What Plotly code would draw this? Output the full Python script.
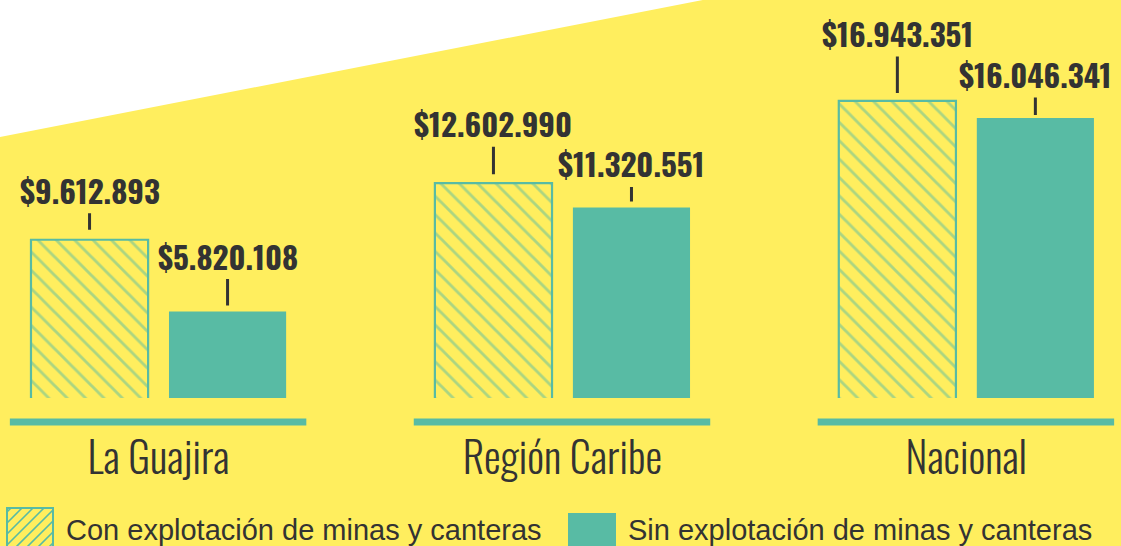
import plotly.graph_objects as go

# ---------------- data ----------------
categories = ["La Guajira", "Región Caribe", "Nacional"]
con_mineria = [9612893, 12602990, 16943351]
sin_mineria = [5820108, 11320551, 16046341]
series_names = ["Con explotación de minas y canteras",
                "Sin explotación de minas y canteras"]

# ---------------- style ----------------
YELLOW = "#FFEE5E"
TEAL = "#58BBA4"
DARK = "#333333"
OSWALD = "Oswald, Roboto Condensed, sans-serif"
SANS = "Liberation Sans, Arial, Helvetica, sans-serif"

W, H = 1121, 546
MB = 148
PH = H - MB

BAR_W = 0.29
CON_OFFSET = -0.3157
SIN_OFFSET = 0.026
con_label_dy = [50, 60, 68]
sin_label_dy = [56, 44, 44]
con_standoff = [10, 9, 8]
sin_standoff = [6, 6, 3]


def fmt(v):
    return "$" + f"{v:,}".replace(",", ".")


def px(xp):
    return xp / W


def py(yp):
    return (PH - yp) / PH


x_idx = list(range(len(categories)))

fig = go.Figure()
fig.add_bar(
    x=x_idx, y=con_mineria, width=BAR_W, offset=CON_OFFSET,
    name=series_names[0], showlegend=False, hoverinfo="skip",
    marker=dict(color=YELLOW, line=dict(color=TEAL, width=2.2),
                pattern=dict(shape="\\", fgcolor=TEAL, bgcolor=YELLOW,
                             size=13, solidity=0.22, fillmode="overlay")),
)
fig.add_bar(
    x=x_idx, y=sin_mineria, width=BAR_W, offset=SIN_OFFSET,
    name=series_names[1], showlegend=False, hoverinfo="skip",
    marker=dict(color=TEAL, line=dict(width=0)),
)

annotations = []
for series, off, dys, sos in [(con_mineria, CON_OFFSET, con_label_dy, con_standoff),
                              (sin_mineria, SIN_OFFSET, sin_label_dy, sin_standoff)]:
    for i, v in enumerate(series):
        annotations.append(dict(
            x=x_idx[i] + off + BAR_W / 2, y=v, xref="x", yref="y",
            text=fmt(v), showarrow=True, arrowhead=0, arrowwidth=3,
            arrowcolor=DARK, ax=0, ay=-dys[i], axref="pixel", ayref="pixel",
            standoff=sos[i], borderpad=0,
            font=dict(family=OSWALD, size=31, color=DARK, weight="bold"),
        ))

# legend texts
annotations.append(dict(x=px(64), y=py(530), xref="paper", yref="paper",
                        xanchor="left", yanchor="middle", showarrow=False,
                        text=series_names[0],
                        font=dict(family=SANS, size=29, color=DARK)))
annotations.append(dict(x=px(626), y=py(530), xref="paper", yref="paper",
                        xanchor="left", yanchor="middle", showarrow=False,
                        text=series_names[1],
                        font=dict(family=SANS, size=29, color=DARK)))

shapes = []
# white triangle top-left
shapes.append(dict(type="path", xref="paper", yref="paper",
                   path=f"M 0 {py(-2)} L {px(713)} {py(-2)} L 0 {py(137)} Z",
                   fillcolor="white", line=dict(width=0), layer="below"))
# baselines per group
for i in x_idx:
    shapes.append(dict(type="line", xref="x", yref="paper",
                       x0=i - 0.368, x1=i + 0.366, y0=py(422), y1=py(422),
                       line=dict(color=TEAL, width=7)))

# legend swatch: hatched box
bx0, bx1, by0, by1 = 7, 53, 508, 560
hatch = []
d = 11
c = bx0 + by0 + 4
while c < bx1 + by1:
    xa = max(bx0, c - by1)
    xb = min(bx1, c - by0)
    if xb > xa:
        hatch.append(f"M {px(xa)} {py(c - xa)} L {px(xb)} {py(c - xb)}")
    c += d
shapes.append(dict(type="rect", xref="paper", yref="paper",
                   x0=px(bx0), x1=px(bx1), y0=py(by0), y1=py(by1),
                   fillcolor=YELLOW, line=dict(width=0)))
shapes.append(dict(type="path", xref="paper", yref="paper",
                   path=" ".join(hatch), line=dict(color=TEAL, width=1.6)))
shapes.append(dict(type="rect", xref="paper", yref="paper",
                   x0=px(bx0), x1=px(bx1), y0=py(by0), y1=py(by1),
                   fillcolor="rgba(0,0,0,0)", line=dict(color=TEAL, width=2)))
# legend swatch: solid box
shapes.append(dict(type="rect", xref="paper", yref="paper",
                   x0=px(568), x1=px(616), y0=py(513), y1=py(560),
                   fillcolor=TEAL, line=dict(width=0)))

fig.update_layout(
    width=W, height=H, autosize=False,
    margin=dict(l=0, r=0, t=0, b=MB, pad=0),
    paper_bgcolor=YELLOW, plot_bgcolor="rgba(0,0,0,0)",
    barmode="overlay", showlegend=False,
    annotations=annotations, shapes=shapes,
    xaxis=dict(range=[-0.3924, 2.383], tickvals=x_idx, ticktext=categories,
               showgrid=False, zeroline=False, showline=False, ticks="",
               ticklabelstandoff=33, fixedrange=True,
               tickfont=dict(family=OSWALD, size=42, color=DARK, weight=300)),
    yaxis=dict(range=[1.252e6, 22.277e6], visible=False, fixedrange=True),
)

fig.write_html("out.html", config={"displayModeBar": False},
               post_script="document.body.style.margin='0';document.body.style.overflow='hidden';")
